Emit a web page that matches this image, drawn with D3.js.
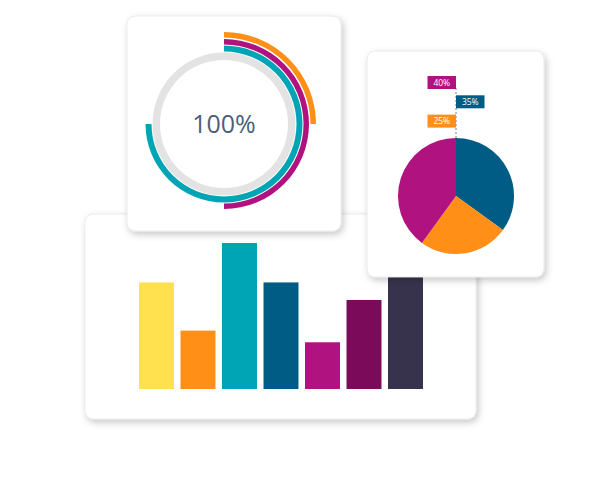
<!DOCTYPE html>
<html>
<head>
<meta charset="utf-8">
<script src="https://cdn.jsdelivr.net/npm/d3@7"></script>
<style>
  html, body { margin: 0; padding: 0; background: #fff; }
  svg { display: block; }
</style>
</head>
<body>
<div id="chart"></div>
<script>
// bar card
const barValues = [73, 40, 100, 73, 32, 61, 85];
const barColors = ['#ffe14f', '#ff8f17', '#00a5b5', '#005b85', '#b0127f', '#7c0a5a', '#38334c'];

// progress rings (outer to inner)
const ringValues = [25, 50, 75];
const ringColors = ['#ff8f17', '#b0127f', '#00a5b5'];
const ringLabel = '100%';

// pie card
const pieValues = [35, 25, 40];
const pieLabels = ['35%', '25%', '40%'];
const pieColors = ['#005b85', '#ff8f17', '#b0127f'];
const labelOrder = [2, 0, 1]; // top to bottom: 40%, 35%, 25%

const width = 600, height = 479;

const svg = d3.select('#chart').append('svg')
    .attr('width', width)
    .attr('height', height);

// soft drop shadow for the cards
const defs = svg.append('defs');
const shadow = defs.append('filter')
    .attr('id', 'shadow')
    .attr('x', '-20%').attr('y', '-20%')
    .attr('width', '140%').attr('height', '140%');
shadow.append('feDropShadow')
    .attr('dx', 2).attr('dy', 3)
    .attr('stdDeviation', 3.5)
    .attr('flood-color', '#000')
    .attr('flood-opacity', 0.22);

function card(x, y, w, h) {
  svg.append('rect')
      .attr('x', x).attr('y', y)
      .attr('width', w).attr('height', h)
      .attr('rx', 8)
      .attr('fill', '#fff')
      .attr('stroke', '#e6e6e6')
      .attr('stroke-width', 0.8)
      .attr('filter', 'url(#shadow)');
}

// ---- bar card ----
card(85, 214, 391, 205);

const xScale = d3.scaleBand()
    .domain(d3.range(barValues.length))
    .range([139, 423])
    .paddingInner(0.157)
    .paddingOuter(0);

const yScale = d3.scaleLinear()
    .domain([0, 100])
    .range([389, 243]);

svg.append('g').selectAll('rect')
    .data(barValues)
    .enter().append('rect')
    .attr('x', (d, i) => xScale(i))
    .attr('y', d => yScale(d))
    .attr('width', xScale.bandwidth())
    .attr('height', d => yScale(0) - yScale(d))
    .attr('fill', (d, i) => barColors[i]);

// ---- ring card ----
card(127, 16, 214, 215);

const ringCenter = [224, 124];
const ringG = svg.append('g')
    .attr('transform', 'translate(' + ringCenter[0] + ',' + ringCenter[1] + ')');

const angle = d3.scaleLinear().domain([0, 100]).range([0, 2 * Math.PI]);

// grey track
ringG.append('path')
    .attr('d', d3.arc().innerRadius(64).outerRadius(71.5).startAngle(0).endAngle(2 * Math.PI)())
    .attr('fill', '#e3e3e3');

const ringRadii = [[86.5, 92], [79.5, 85], [72.5, 78.5]];
ringG.selectAll('.ring')
    .data(ringValues)
    .enter().append('path')
    .attr('class', 'ring')
    .attr('d', (d, i) => d3.arc()
        .innerRadius(ringRadii[i][0])
        .outerRadius(ringRadii[i][1])
        .startAngle(0)
        .endAngle(angle(d))())
    .attr('fill', (d, i) => ringColors[i]);

ringG.append('text')
    .attr('x', 0)
    .attr('y', 9)
    .attr('text-anchor', 'middle')
    .attr('font-family', '"Open Sans", sans-serif')
    .attr('font-size', '25px')
    .attr('fill', '#4b6078')
    .text(ringLabel);

// ---- pie card ----
card(367, 51, 177, 226);

const pieCenter = [456, 196];
const pieR = 58;
const pieG = svg.append('g')
    .attr('transform', 'translate(' + pieCenter[0] + ',' + pieCenter[1] + ')');

const arcs = d3.pie().sort(null)(pieValues);
pieG.selectAll('.slice')
    .data(arcs)
    .enter().append('path')
    .attr('class', 'slice')
    .attr('d', d3.arc().innerRadius(0).outerRadius(pieR))
    .attr('fill', (d, i) => pieColors[i]);

// dashed leader line
svg.append('line')
    .attr('x1', pieCenter[0]).attr('x2', pieCenter[0])
    .attr('y1', 88).attr('y2', pieCenter[1] - pieR)
    .attr('stroke', '#7a7a7a')
    .attr('stroke-width', 1)
    .attr('stroke-dasharray', '2,2');

const labelY = d3.scaleBand()
    .domain(d3.range(labelOrder.length))
    .range([76, 76 + 3 * 19.3]);

const labelG = svg.append('g').selectAll('g')
    .data(labelOrder)
    .enter().append('g')
    .attr('transform', (d, row) => {
      const x = row % 2 === 0 ? pieCenter[0] - 28.5 : pieCenter[0];
      return 'translate(' + x + ',' + labelY(row) + ')';
    });

labelG.append('rect')
    .attr('width', 28.5)
    .attr('height', 13)
    .attr('fill', d => pieColors[d]);

labelG.append('text')
    .attr('x', 14.25)
    .attr('y', 9.7)
    .attr('text-anchor', 'middle')
    .attr('font-family', '"Open Sans", sans-serif')
    .attr('font-size', '8.5px')
    .attr('fill', '#fff')
    .text(d => pieLabels[d]);
</script>
</body>
</html>
